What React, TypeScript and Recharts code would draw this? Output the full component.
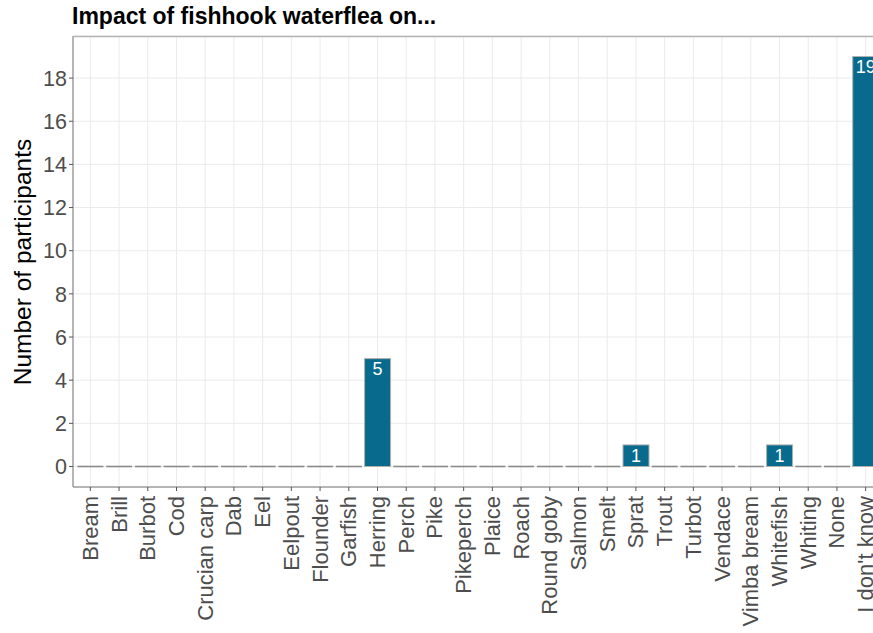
import React from 'react';
import { BarChart, Bar, XAxis, YAxis, CartesianGrid, LabelList } from 'recharts';

const species = [
  'Bream', 'Brill', 'Burbot', 'Cod', 'Crucian carp', 'Dab', 'Eel', 'Eelpout', 'Flounder', 'Garfish',
  'Herring', 'Perch', 'Pike', 'Pikeperch', 'Plaice', 'Roach', 'Round goby', 'Salmon', 'Smelt', 'Sprat',
  'Trout', 'Turbot', 'Vendace', 'Vimba bream', 'Whitefish', 'Whiting', 'None', "I don't know",
];
const participants = [0, 0, 0, 0, 0, 0, 0, 0, 0, 0, 5, 0, 0, 0, 0, 0, 0, 0, 0, 1, 0, 0, 0, 0, 1, 0, 0, 19];
const yTicks = [0, 2, 4, 6, 8, 10, 12, 14, 16, 18];

const data = species.map((name, i) => ({ name, count: participants[i] }));

const FONT = '"Liberation Sans", Arial, Helvetica, sans-serif';
const FILL = '#086a8c';

const BarShape = (props: any) => {
  const { x, y, width, height } = props;
  if (!height) {
    return <line x1={x} x2={x + width} y1={y} y2={y} stroke="#8a8a8a" strokeWidth={1.6} />;
  }
  return <rect x={x} y={y} width={width} height={height} fill={FILL} stroke="#b0b0b0" strokeWidth={1} />;
};

const XTick = (props: any) => {
  const { x, y, payload } = props;
  return (
    <text
      transform={`translate(${x},${y + 3}) rotate(-90)`}
      textAnchor="end"
      dominantBaseline="central"
      fontSize={22}
      fill="#4d4d4d"
      fontFamily={FONT}
    >
      {payload.value}
    </text>
  );
};

export default function App() {
  return (
    <div style={{ position: 'fixed', left: 0, top: 0, width: 873, height: 633, overflow: 'hidden', background: '#fff' }}>
      <div style={{ position: 'absolute', left: 72, top: 3, fontFamily: FONT, fontWeight: 'bold', fontSize: 23, color: '#000', whiteSpace: 'nowrap' }}>
        Impact of fishhook waterflea on...
      </div>
      <BarChart
        width={895}
        height={633}
        data={data}
        margin={{ top: 36, right: 12, bottom: 0, left: 0 }}
        barCategoryGap="5%"
      >
        <CartesianGrid stroke="#ebebeb" strokeWidth={1} ticks={yTicks} />
        <XAxis
          dataKey="name"
          interval={0}
          padding={{ left: 3, right: 3 }}
          height={146}
          tick={<XTick />}
          tickSize={4}
          tickLine={{ stroke: '#555' }}
          axisLine={{ stroke: '#777' }}
        />
        <YAxis
          type="number"
          domain={[-0.95, 19.95]}
          ticks={yTicks}
          width={73}
          tickSize={4}
          tickMargin={2}
          tickLine={{ stroke: '#555' }}
          axisLine={{ stroke: '#777' }}
          tick={{ fontSize: 21.5, fill: '#4d4d4d', fontFamily: FONT }}
          label={() => (
            <text
              transform={`translate(22,262) rotate(-90)`}
              textAnchor="middle"
              dominantBaseline="central"
              fontSize={24.5}
              fill="#000"
              fontFamily={FONT}
            >
              Number of participants
            </text>
          )}
        />
        <Bar dataKey="count" shape={<BarShape />} isAnimationActive={false}>
          <LabelList
            dataKey="count"
            position="insideTop"
            offset={4}
            fill="#fff"
            fontSize={18}
            fontFamily={FONT}
            formatter={(v: any) => (v > 0 ? v : '')}
          />
        </Bar>
      </BarChart>
      <svg style={{ position: 'absolute', left: 0, top: 0 }} width={873} height={633} pointerEvents="none">
        <line x1={73} x2={873} y1={36.5} y2={36.5} stroke="#b5b5b5" strokeWidth={1.5} />
      </svg>
    </div>
  );
}
